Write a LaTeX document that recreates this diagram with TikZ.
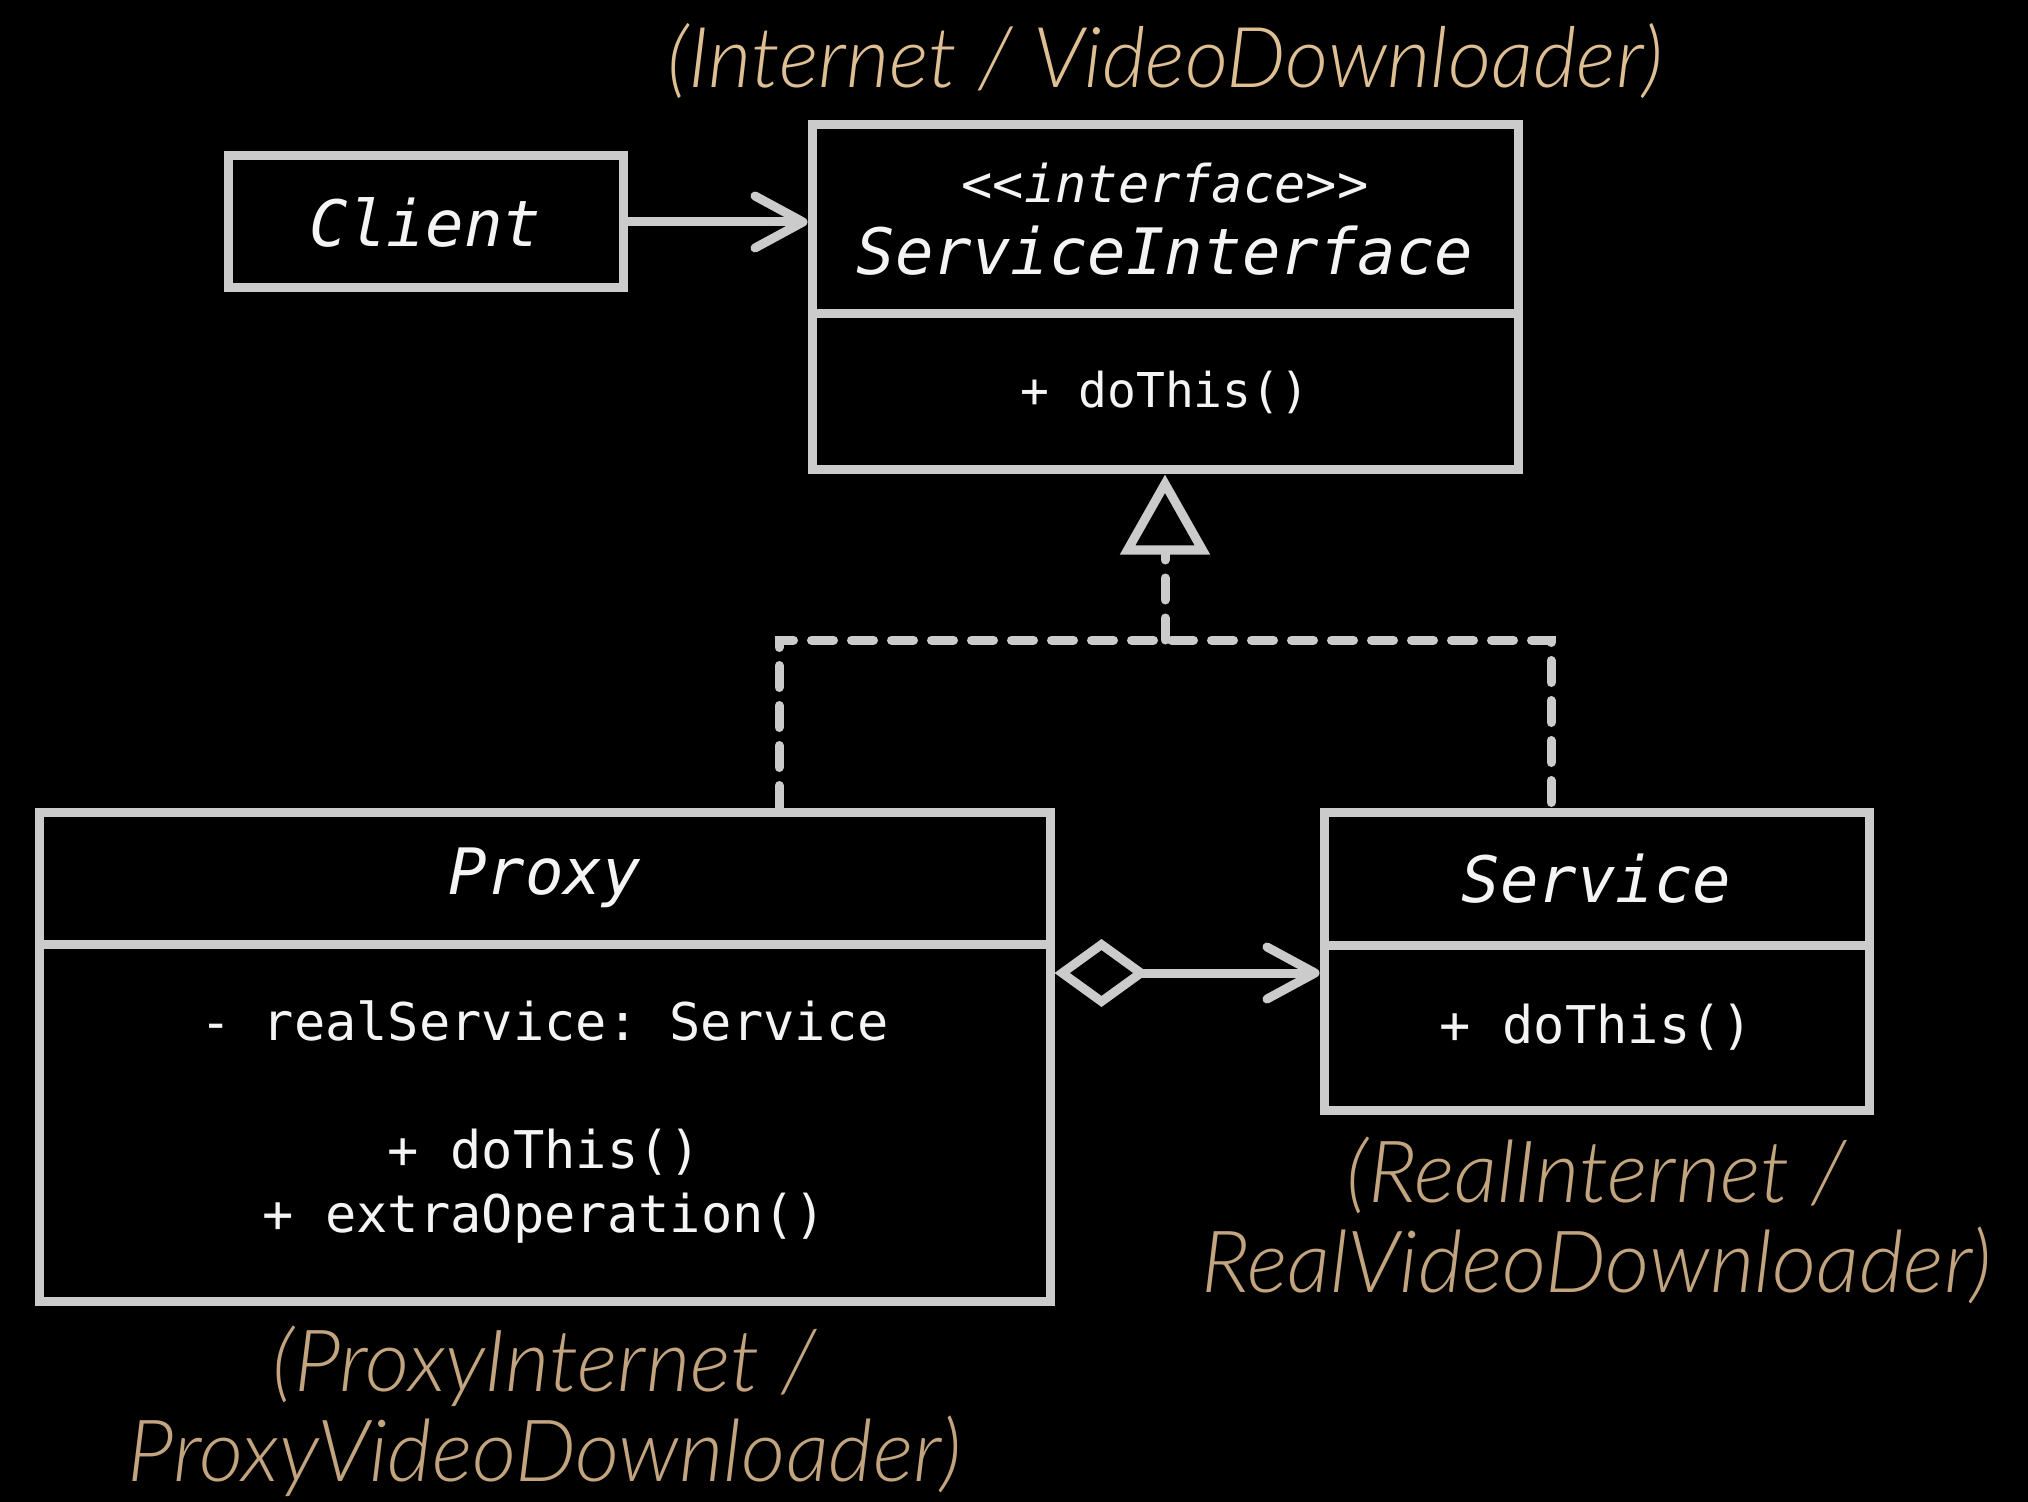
\documentclass[tikz,border=0pt]{standalone}
\usepackage{fontspec}
\setmonofont{DejaVu Sans Mono}
\newfontfamily\tanfont{Lato Light Italic}
\usetikzlibrary{arrows.meta,positioning}
\definecolor{umlgrey}{HTML}{CBCBCB}
\definecolor{umltext}{HTML}{F4F4F4}
\definecolor{tanhi}{HTML}{DEBF93}
\definecolor{tanlo}{HTML}{C2A47F}

\begin{document}
\begin{tikzpicture}[x=0.5pt, y=-0.5pt,
  cls/.style={draw=umlgrey, line width=4.5pt, text=umltext, inner sep=0pt, align=center},
  hdr/.style={cls, font=\ttfamily\itshape\fontsize{32}{38}\selectfont},
  mem/.style={cls, font=\ttfamily\fontsize{26}{32}\selectfont},
  lbl/.style={font=\tanfont\fontsize{43}{45}\selectfont, text=tanlo, align=center, inner sep=0pt},
  arr/.style={-{Straight Barb[length=24pt,width=26pt,round]}, line width=4.5pt, draw=umlgrey},
  dsh/.style={line width=4.5pt, draw=umlgrey, dash pattern=on 11pt off 9pt, line cap=round}
]

% canvas
\fill[black] (0,0) rectangle (2028,1502);
\useasboundingbox (0,0) rectangle (2028,1502);

% Interface
\node[hdr, minimum width=353pt, minimum height=94.5pt] (sihead) at (1165,219.5) {{\fontsize{26}{32}\selectfont <<interface>>}\\[-2pt]ServiceInterface};
\node[mem, minimum width=353pt, minimum height=78pt, font=\ttfamily\fontsize{24}{30}\selectfont] (sibody) at (1165,392) {+ doThis()};
\node[lbl, text=tanhi, font=\tanfont\fontsize{42}{45}\selectfont, above=11pt of sihead] (siname) {(Internet / VideoDownloader)};

% Client
\node[hdr, minimum width=197.5pt, minimum height=66pt] (client) at (425.5,222) {Client};

% Proxy
\node[hdr, minimum width=505.5pt, minimum height=66pt] (pxhead) at (544.5,878) {Proxy};
\node[mem, minimum width=505.5pt, minimum height=178.5pt] (pxbody) at (544.5,1122.5) {- realService: Service\\[32pt]+ doThis()\\+ extraOperation()};
\node[lbl, below=10pt of pxbody] (pxname) {(ProxyInternet /\\ProxyVideoDownloader)};

% Service
\node[hdr, minimum width=272.5pt, minimum height=66.5pt] (svhead) at (1596.5,878.5) {Service};
\node[mem, minimum width=272.5pt, minimum height=82.5pt] (svbody) at (1596.5,1027.5) {+ doThis()};
\node[lbl, below=11pt of svbody] (svname) {(RealInternet /\\RealVideoDownloader)};

% Connectors
\coordinate (join) at (1165,640);
\coordinate (pxjoin) at (779,640);
\coordinate (svjoin) at (1551,640);
\coordinate (aggy) at (0,973);

\draw[arr] (client.east) -- (client.east -| sihead.west);
\draw[dsh, -{Triangle[open,length=40pt,width=44pt]}] (join) -- (sibody.south);
\draw[dsh] (pxhead.north -| pxjoin) -- (pxjoin) -- (svjoin) -- (svhead.north -| svjoin);
\draw[line width=4.5pt, draw=umlgrey, {Diamond[open,length=47pt,width=34pt]}-{Straight Barb[length=24pt,width=26pt,round]}] (pxbody.east |- aggy) -- (svbody.west |- aggy);

\end{tikzpicture}
\end{document}
